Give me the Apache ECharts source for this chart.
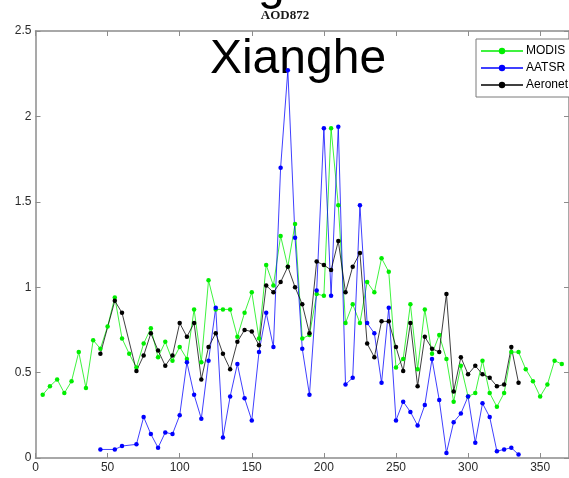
<!DOCTYPE html>
<html>
<head>
<meta charset="utf-8">
<script src="https://cdn.jsdelivr.net/npm/echarts@6/dist/echarts.min.js"></script>
<style>
  html, body { margin: 0; padding: 0; background: #fff; }
  #chart { width: 569px; height: 478px; }
</style>
</head>
<body>
<div id="chart"></div>
<script>
// Day of year (x) and aerosol optical depth at 872 nm (y) for each source
const modisDays = [5,10,15,20,25,30,35,40,45,50,55,60,65,70,75,80,85,90,95,100,105,110,115,120,125,130,135,140,145,150,155,160,165,170,175,180,185,190,195,200,205,210,215,220,225,230,235,240,245,250,255,260,265,270,275,280,285,290,295,300,305,310,315,320,325,330,335,340,345,350,355,360,365];
const modisAod  = [0.37,0.42,0.46,0.38,0.45,0.62,0.41,0.69,0.64,0.77,0.94,0.70,0.61,0.53,0.67,0.76,0.59,0.68,0.57,0.65,0.58,0.87,0.56,1.04,0.87,0.87,0.87,0.71,0.85,0.97,0.70,1.13,1.01,1.30,1.12,1.37,0.70,0.72,0.96,0.95,1.93,1.48,0.79,0.90,0.79,1.03,0.97,1.17,1.09,0.53,0.58,0.90,0.52,0.87,0.61,0.72,0.58,0.33,0.54,0.36,0.38,0.57,0.38,0.30,0.38,0.62,0.62,0.52,0.45,0.36,0.43,0.57,0.55];

const aatsrDays = [45,55,60,70,75,80,85,90,95,100,105,110,115,120,125,130,135,140,145,150,155,160,165,170,175,180,185,190,195,200,205,210,215,220,225,230,235,240,245,250,255,260,265,270,275,280,285,290,295,300,305,310,315,320,325,330,335];
const aatsrAod  = [0.05,0.05,0.07,0.08,0.24,0.14,0.06,0.15,0.14,0.25,0.56,0.37,0.23,0.57,0.88,0.12,0.36,0.55,0.35,0.22,0.62,0.85,0.65,1.70,2.27,1.29,0.64,0.37,0.98,1.93,0.95,1.94,0.43,0.47,1.48,0.79,0.73,0.44,0.88,0.22,0.33,0.27,0.19,0.31,0.58,0.34,0.03,0.21,0.26,0.36,0.09,0.32,0.24,0.04,0.05,0.06,0.02];

const aeronetDays = [45,55,60,70,75,80,85,90,95,100,105,110,115,120,125,130,135,140,145,150,155,160,165,170,175,180,185,190,195,200,205,210,215,220,225,230,235,240,245,250,255,260,265,270,275,280,285,290,295,300,305,310,315,320,325,330,335];
const aeronetAod  = [0.61,0.92,0.85,0.51,0.60,0.73,0.63,0.54,0.60,0.79,0.71,0.79,0.46,0.65,0.73,0.61,0.52,0.68,0.75,0.74,0.66,1.01,0.97,1.03,1.12,1.00,0.90,0.73,1.15,1.13,1.10,1.27,0.97,1.12,1.20,0.67,0.59,0.80,0.80,0.65,0.51,0.79,0.42,0.71,0.64,0.62,0.96,0.39,0.59,0.49,0.54,0.49,0.47,0.42,0.43,0.65,0.44];

const xTicks = [0, 50, 100, 150, 200, 250, 300, 350];
const yTicks = [0, 0.5, 1, 1.5, 2, 2.5];

const seriesNames = ['MODIS', 'AATSR', 'Aeronet'];
const seriesColors = ['#00ee00', '#0000ff', '#000000'];

function pairs(xs, ys) { return xs.map((x, i) => [x, ys[i]]); }

const chart = echarts.init(document.getElementById('chart'), null, { renderer: 'canvas' });

const axisGray = '#8c8c8c';
const labelStyle = { color: '#2a2a2a', fontSize: 12, fontFamily: 'Liberation Sans, Arial, sans-serif' };

function lineSeries(name, color, data) {
  return {
    name: name,
    type: 'line',
    data: data,
    xAxisIndex: 0,
    yAxisIndex: 0,
    symbol: 'circle',
    symbolSize: 4.5,
    showSymbol: true,
    lineStyle: { color: color, width: 1, opacity: 0.75 },
    itemStyle: { color: color },
    emphasis: { disabled: true },
    animation: false,
    clip: true
  };
}

chart.setOption({
  animation: false,
  backgroundColor: '#ffffff',
  grid: { left: 35.5, top: 31, right: -9, bottom: 20, containLabel: false },
  xAxis: [
    {
      type: 'value', position: 'bottom', min: 0, max: 370, interval: 50,
      axisLine: { show: true, onZero: false, lineStyle: { color: axisGray, width: 1.5 } },
      axisTick: { show: true, inside: true, length: 5, lineStyle: { color: axisGray } },
      axisLabel: Object.assign({ margin: 4, showMaxLabel: false,
        formatter: v => (xTicks.indexOf(v) >= 0 ? String(v) : '') }, labelStyle),
      splitLine: { show: false }
    },
    {
      type: 'value', position: 'top', min: 0, max: 370, interval: 50,
      axisLine: { show: true, onZero: false, lineStyle: { color: axisGray, width: 1.5 } },
      axisTick: { show: true, inside: true, length: 5, lineStyle: { color: axisGray } },
      axisLabel: { show: false },
      splitLine: { show: false }
    }
  ],
  yAxis: [
    {
      type: 'value', position: 'left', min: 0, max: 2.5, interval: 0.5,
      axisLine: { show: true, onZero: false, lineStyle: { color: axisGray, width: 1.5 } },
      axisTick: { show: true, inside: true, length: 5, lineStyle: { color: axisGray } },
      axisLabel: Object.assign({ margin: 4,
        formatter: v => (yTicks.indexOf(v) >= 0 ? String(v) : '') }, labelStyle),
      splitLine: { show: false }
    },
    {
      type: 'value', position: 'right', min: 0, max: 2.5, interval: 0.5,
      axisLine: { show: true, onZero: false, lineStyle: { color: axisGray, width: 1.5 } },
      axisTick: { show: true, inside: true, length: 5, lineStyle: { color: axisGray } },
      axisLabel: { show: false },
      splitLine: { show: false }
    }
  ],
  legend: {
    data: seriesNames,
    orient: 'vertical',
    left: 476, top: 39,
    padding: [6, 30, 6, 4],
    itemGap: 5,
    itemWidth: 42,
    itemHeight: 8,
    borderColor: '#7a7a7a',
    borderWidth: 1,
    backgroundColor: '#ffffff',
    textStyle: { color: '#000', fontSize: 12, fontFamily: 'Liberation Sans, Arial, sans-serif', padding: [0, 0, 0, -2] },
    selectedMode: false
  },
  graphic: [
    {
      type: 'text', x: 285, y: 9,
      style: { text: 'AOD872', textAlign: 'center', textVerticalAlign: 'top', fill: '#1a1a1a',
        font: 'bold 13px "Liberation Serif", "DejaVu Serif", serif' }
    },
    {
      type: 'text', x: 298, y: 84,
      style: { text: 'Xianghe', textAlign: 'center', textVerticalAlign: 'bottom', fill: '#000',
        font: '48px "Liberation Sans", Arial, sans-serif' }
    },
    {
      type: 'text', x: 250, y: 10,
      style: { text: 'Xianghe', textAlign: 'center', textVerticalAlign: 'bottom', fill: '#000',
        font: '48px "Liberation Sans", Arial, sans-serif' }
    }
  ],
  series: [
    lineSeries(seriesNames[0], seriesColors[0], pairs(modisDays, modisAod)),
    lineSeries(seriesNames[1], seriesColors[1], pairs(aatsrDays, aatsrAod)),
    lineSeries(seriesNames[2], seriesColors[2], pairs(aeronetDays, aeronetAod))
  ]
});
</script>
</body>
</html>
